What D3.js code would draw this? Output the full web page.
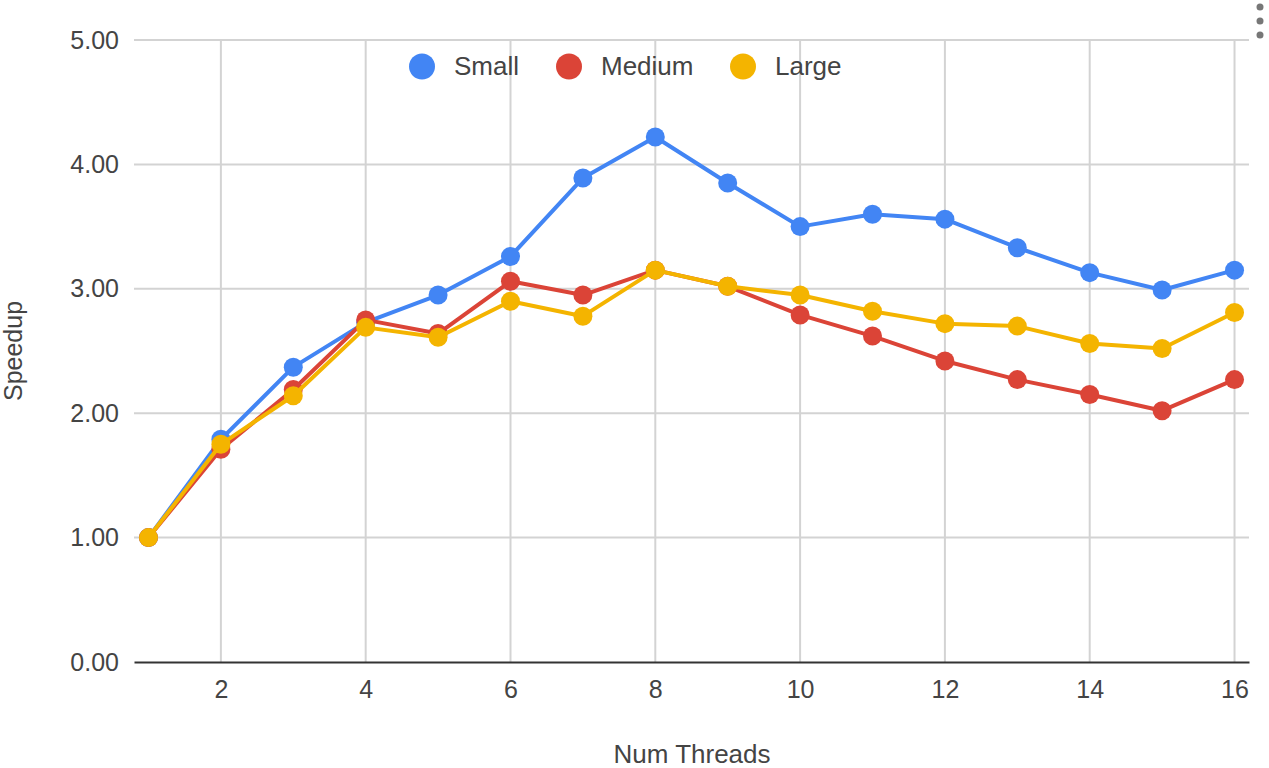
<!DOCTYPE html>
<html>
<head>
<meta charset="utf-8">
<script src="https://cdn.jsdelivr.net/npm/d3@7"></script>
<style>
  html, body { margin: 0; padding: 0; background: #fff; }
  svg { display: block; font-family: "Liberation Sans", Arial, sans-serif; }
</style>
</head>
<body>
<svg id="chart" width="1269" height="768"></svg>
<script>
// Speedup per thread count for three problem sizes
const threads = [1, 2, 3, 4, 5, 6, 7, 8, 9, 10, 11, 12, 13, 14, 15, 16];
const small  = [1.00, 1.79, 2.37, 2.73, 2.95, 3.26, 3.89, 4.22, 3.85, 3.50, 3.60, 3.56, 3.33, 3.13, 2.99, 3.15];
const medium = [1.00, 1.71, 2.19, 2.75, 2.64, 3.06, 2.95, 3.15, 3.02, 2.79, 2.62, 2.42, 2.27, 2.15, 2.02, 2.27];
const large  = [1.00, 1.75, 2.14, 2.69, 2.61, 2.90, 2.78, 3.15, 3.02, 2.95, 2.82, 2.72, 2.70, 2.56, 2.52, 2.81];
const seriesNames = ["Small", "Medium", "Large"];
const seriesColors = ["#4285F4", "#DB4437", "#F4B400"];
const xTickValues = [2, 4, 6, 8, 10, 12, 14, 16];
const yTickValues = [0, 1, 2, 3, 4, 5];

const series = [small, medium, large].map((vals, i) => ({
  name: seriesNames[i],
  color: seriesColors[i],
  points: threads.map((t, j) => ({ x: t, y: vals[j] }))
}));

const svg = d3.select("#chart");
const textColor = "#444";

const x = d3.scaleLinear().domain([0.8, 16.2]).range([134, 1249]);
const y = d3.scaleLinear().domain([0, 5]).range([662, 40]);

// Horizontal gridlines and y-axis labels
const yAxis = d3.axisLeft(y).tickValues(yTickValues)
  .tickSize(0).tickPadding(15).tickFormat(d3.format(".2f"));
const gy = svg.append("g").attr("transform", `translate(${x.range()[0]},0)`).call(yAxis);
gy.select(".domain").remove();
gy.selectAll("text").attr("fill", textColor).style("font-size", "25px");

svg.append("g").selectAll("line")
  .data(yTickValues.filter(d => d !== 0))
  .join("line")
  .attr("x1", x.range()[0]).attr("x2", x.range()[1])
  .attr("y1", d => y(d)).attr("y2", d => y(d))
  .attr("stroke", "#d3d3d3").attr("stroke-width", 2);

// Vertical gridlines
svg.append("g").selectAll("line")
  .data(xTickValues)
  .join("line")
  .attr("x1", d => x(d)).attr("x2", d => x(d))
  .attr("y1", y(5)).attr("y2", y(0))
  .attr("stroke", "#d3d3d3").attr("stroke-width", 2);

// X axis with baseline
const xAxis = d3.axisBottom(x).tickValues(xTickValues).tickSize(0).tickPadding(18).tickFormat(d3.format("d"));
const gx = svg.append("g").attr("transform", `translate(0,${y(0)})`).call(xAxis);
gx.select(".domain").attr("stroke", "#333").attr("stroke-width", 2);
gx.selectAll("text").attr("fill", textColor).style("font-size", "25px");

// Axis titles
svg.append("text")
  .attr("x", 692).attr("y", 763)
  .attr("text-anchor", "middle")
  .attr("fill", textColor).style("font-size", "26px")
  .text("Num Threads");

svg.append("text")
  .attr("transform", `translate(22,${(y(0) + y(5)) / 2}) rotate(-90)`)
  .attr("text-anchor", "middle")
  .attr("fill", textColor).style("font-size", "25px")
  .text("Speedup");

// Lines and markers
const line = d3.line().x(d => x(d.x)).y(d => y(d.y));
const gSeries = svg.append("g").selectAll("g").data(series).join("g");
gSeries.append("path")
  .attr("d", d => line(d.points))
  .attr("fill", "none")
  .attr("stroke", d => d.color)
  .attr("stroke-width", 4)
  .attr("stroke-linejoin", "round");
gSeries.selectAll("circle")
  .data(d => d.points.map(p => ({ ...p, color: d.color })))
  .join("circle")
  .attr("cx", d => x(d.x)).attr("cy", d => y(d.y))
  .attr("r", 9.5)
  .attr("fill", d => d.color);

// Legend
const legendPos = [422, 569, 743];
const legend = svg.append("g").selectAll("g").data(series).join("g")
  .attr("transform", (d, i) => `translate(${legendPos[i]},66.5)`);
legend.append("circle").attr("r", 13).attr("fill", d => d.color);
legend.append("text")
  .attr("x", 32).attr("y", 8.5)
  .attr("fill", textColor).style("font-size", "26px")
  .text(d => d.name);

// Overflow menu dots
svg.append("g").selectAll("circle")
  .data([7, 21, 35])
  .join("circle")
  .attr("cx", 1260).attr("cy", d => d)
  .attr("r", 3.5)
  .attr("fill", "#777");
</script>
</body>
</html>
